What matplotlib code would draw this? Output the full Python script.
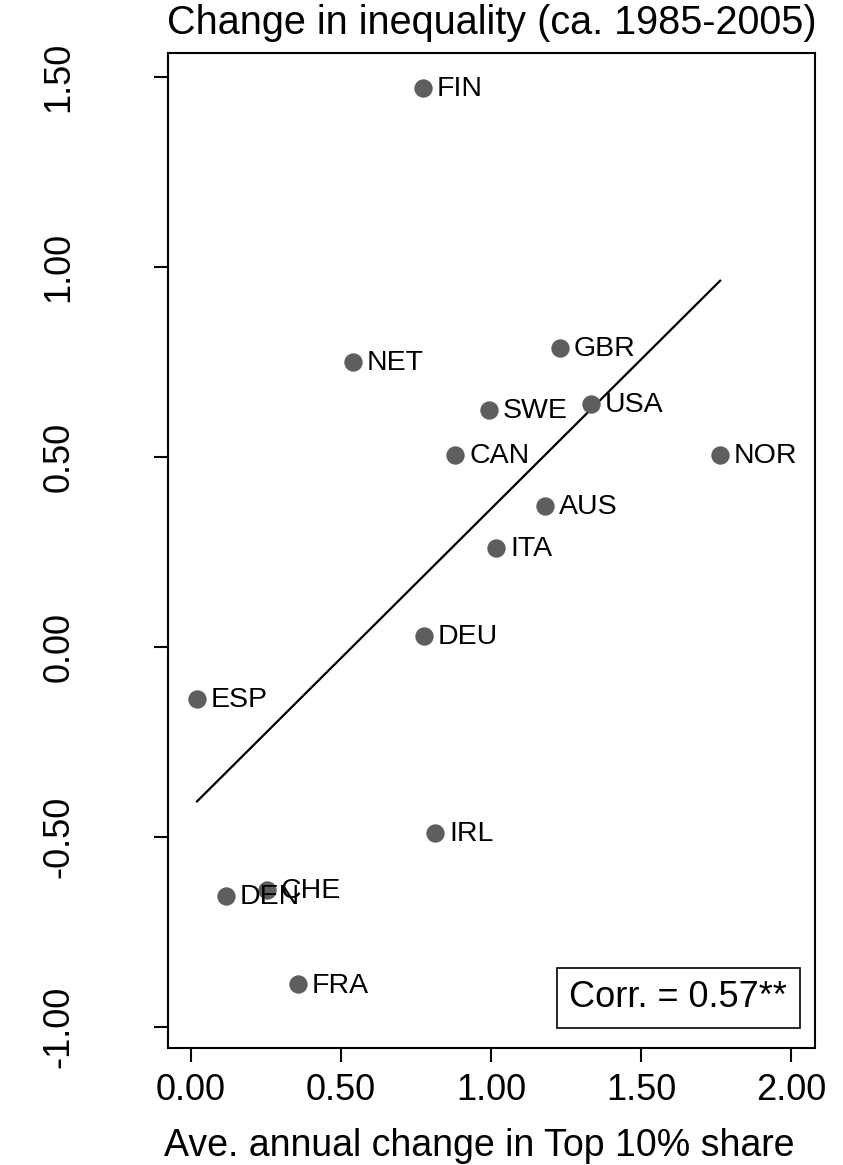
import numpy as np
import matplotlib.pyplot as plt

# country codes and their values
countries = ["FIN", "NET", "GBR", "SWE", "USA", "CAN", "NOR", "AUS",
             "ITA", "DEU", "ESP", "IRL", "DEN", "CHE", "FRA"]
top10_change = [0.774, 0.541, 1.231, 0.994, 1.334, 0.881, 1.764, 1.181,
                1.018, 0.778, 0.021, 0.814, 0.117, 0.253, 0.357]
ineq_change = [1.470, 0.749, 0.786, 0.623, 0.639, 0.505, 0.505, 0.370,
               0.260, 0.028, -0.138, -0.490, -0.656, -0.640, -0.888]
x_ticks = [0.0, 0.5, 1.0, 1.5, 2.0]
y_ticks = [-1.0, -0.5, 0.0, 0.5, 1.0, 1.5]

plt.rcParams['font.family'] = ['Liberation Sans', 'DejaVu Sans']

fig = plt.figure(figsize=(8.43, 11.65), dpi=100)
ax = fig.add_axes([168 / 843, 117 / 1165, 647 / 843, 995 / 1165])

x = np.array(top10_change)
y = np.array(ineq_change)

ax.scatter(x, y, s=175, color="#5e5e5e", zorder=3, linewidths=0)
for name, xi, yi in zip(countries, x, y):
    ax.annotate(name, (xi, yi), xytext=(10, -1), textcoords="offset points",
                fontsize=20.5, va="center", ha="left")

# linear fit over the observed range
slope, intercept = np.polyfit(x, y, 1)
xs = np.array([x.min(), x.max()])
ax.plot(xs, intercept + slope * xs, color="black", lw=1.6, zorder=2)

ax.set_xlim(-0.0757, 2.08)
ax.set_ylim(-1.056, 1.562)
ax.set_xticks(x_ticks)
ax.set_xticklabels([f"{v:.2f}" for v in x_ticks])
ax.set_yticks(y_ticks)
ax.set_yticklabels([f"{v:.2f}" for v in y_ticks], rotation=90, va="center")
ax.tick_params(axis="both", length=10, width=1.5, labelsize=26)
ax.tick_params(axis="y", pad=56)
ax.tick_params(axis="x", pad=8)
for sp in ax.spines.values():
    sp.set_linewidth(1.5)

ax.set_title("Change in inequality (ca. 1985-2005)", fontsize=28.5, pad=14)
ax.set_xlabel("Ave. annual change in Top 10% share", fontsize=27)
ax.xaxis.set_label_coords(0.481, -0.080)

ax.text(0.957, 0.033, "Corr. = 0.57**", transform=ax.transAxes, fontsize=26,
        ha="right", va="bottom",
        bbox=dict(boxstyle="square,pad=0.35", fc="white", ec="black", lw=1.2))

fig.savefig("out.png", dpi=100)
